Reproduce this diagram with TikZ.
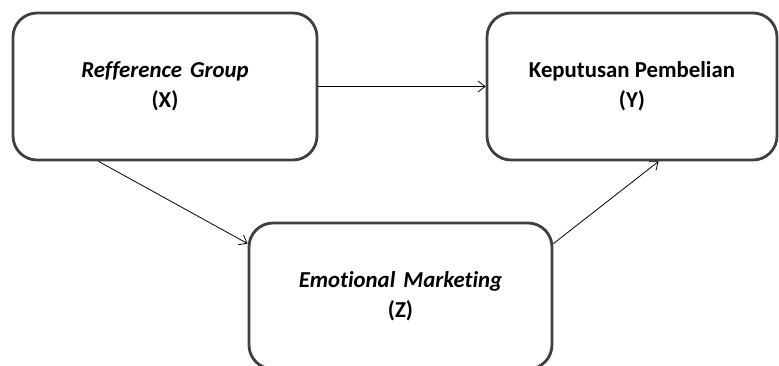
\documentclass[tikz,border=0pt]{standalone}
\usepackage{fontspec}
\setmainfont[Ligatures=NoCommon]{Carlito}
\usetikzlibrary{calc,arrows.meta}
\begin{document}
\begin{tikzpicture}[x=1pt,y=-1pt,
  varbox/.style={draw=black!75,line width=2.8pt,rounded corners=24pt,fill=white,
    align=center,font=\fontsize{22.8}{30}\selectfont\bfseries,inner sep=0pt},
  link/.style={draw=black,line width=0.8pt,-{Straight Barb[length=7pt,width=11pt,line width=0.8pt]}}]
\useasboundingbox (0,0) rectangle (779,365);
\clip (0,0) rectangle (779,365);
\node[varbox,minimum width=304pt,minimum height=147pt] (X) at (165,86.5)
  {\itshape Refference\hspace{0.35em}Group\\(X)};
\node[varbox,minimum width=290pt,minimum height=147pt] (Y) at (632,86.5)
  {Keputusan Pembelian\\(Y)};
\node[varbox,minimum width=303pt,minimum height=146pt] (Z) at (400.5,296)
  {\itshape Emotional\hspace{0.35em}Marketing\\(Z)};
\coordinate (xs) at ($(X.south west)+(87,0)$);
\coordinate (ze) at ($(Z.north west)+(0,22)$);
\coordinate (zs) at ($(Z.north east)+(0,22)$);
\coordinate (ye) at ($(Y.south west)+(173,0)$);
\draw[link] (X.east) -- (Y.west);
\draw[link] (xs) -- (ze);
\draw[link] (zs) -- (ye);
\end{tikzpicture}
\end{document}
